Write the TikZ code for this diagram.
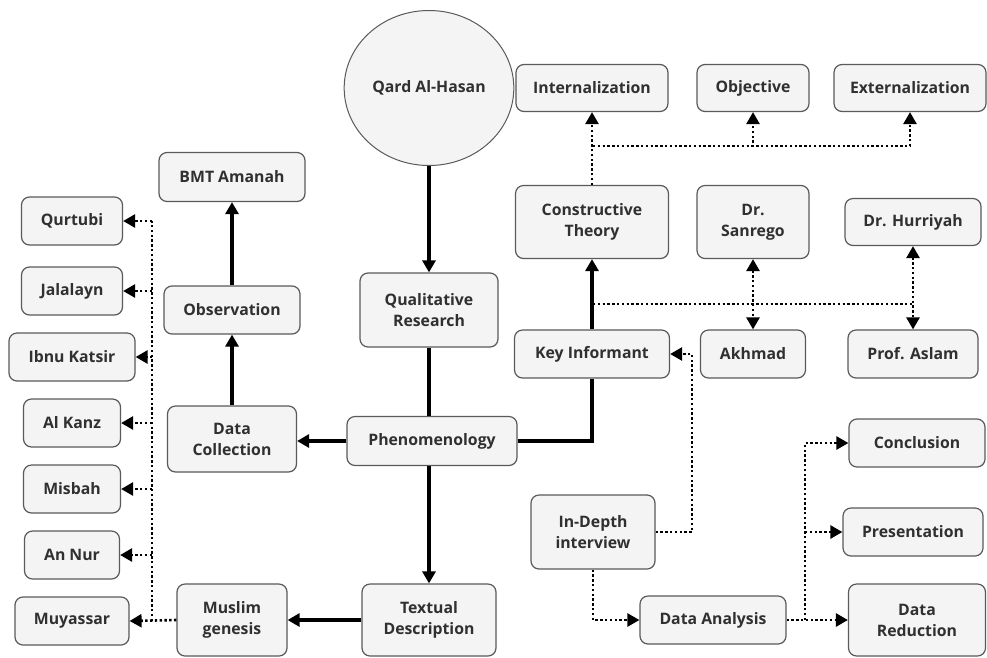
\documentclass[tikz,border=0pt]{standalone}
\usepackage{fontspec}
\setmainfont{Open Sans}
\usetikzlibrary{arrows.meta,shapes.geometric}
\definecolor{boxfill}{HTML}{F4F4F4}
\definecolor{boxline}{HTML}{5A5A5A}
\definecolor{boxtext}{HTML}{303030}
\begin{document}
\begin{tikzpicture}[x=1pt,y=-1pt,
 box/.style={draw=boxline, fill=boxfill, rounded corners=8pt, line width=1.2pt,
   font=\fontsize{15.8}{21}\selectfont\bfseries, text=boxtext, align=center, inner sep=0pt},
 tip/.tip={Triangle[length=12pt,width=13pt]},
 solidl/.style={line width=3.2pt},
 solidc/.style={solidl, -tip},
 dotl/.style={line width=2.6pt, dash pattern=on 2.4pt off 2.4pt},
 dotc/.style={dotl, -tip},
 dotb/.style={dotl, tip-tip},
]
\useasboundingbox (0,0) rectangle (987,657);
\fill[white] (0,0) rectangle (987,657);

% top row
\node[draw=boxline, fill=boxfill, ellipse, line width=1pt, minimum width=142pt, minimum height=155pt,
  font=\fontsize{15.8}{21}\selectfont\bfseries, text=boxtext] (qard) at (429,88) {Qard Al-Hasan};
\node[box, minimum width=152pt, minimum height=47pt] (intern) at (592,88) {Internalization};
\node[box, minimum width=112pt, minimum height=47pt] (objective) at (753,88) {Objective};
\node[box, minimum width=152pt, minimum height=47pt] (extern) at (910,88) {Externalization};

\node[box, minimum width=146pt, minimum height=49pt] (bmt) at (232,177) {BMT Amanah};
\node[box, minimum width=153pt, minimum height=73pt] (constr) at (592,222) {Constructive\\Theory};
\node[box, minimum width=112pt, minimum height=73pt] (sanrego) at (753,222) {Dr.\\Sanrego};
\node[box, minimum width=136pt, minimum height=47pt] (hurriyah) at (913,222) {Dr. Hurriyah};

% tafsir column
\node[box, minimum width=101pt, minimum height=48pt] (qurtubi) at (72,221) {Qurtubi};
\node[box, minimum width=101pt, minimum height=48pt] (jalalayn) at (72,291) {Jalalayn};
\node[box, minimum width=126pt, minimum height=48pt] (ibnu) at (72,357) {Ibnu Katsir};
\node[box, minimum width=97pt, minimum height=48pt] (alkanz) at (72,423) {Al Kanz};
\node[box, minimum width=97pt, minimum height=48pt] (misbah) at (72,489) {Misbah};
\node[box, minimum width=95pt, minimum height=48pt] (annur) at (72,555) {An Nur};
\node[box, minimum width=114pt, minimum height=48pt] (muyassar) at (72,621) {Muyassar};

% middle
\node[box, minimum width=136pt, minimum height=48pt] (obs) at (232,310) {Observation};
\node[box, minimum width=138pt, minimum height=74pt] (qual) at (429,310) {Qualitative\\Research};
\node[box, minimum width=155pt, minimum height=48pt] (keyinf) at (592,354) {Key Informant};
\node[box, minimum width=105pt, minimum height=48pt] (akhmad) at (753,354) {Akhmad};
\node[box, minimum width=130pt, minimum height=48pt] (aslam) at (913,354) {Prof. Aslam};

\node[box, minimum width=129pt, minimum height=66pt] (datacol) at (232,439) {Data\\Collection};
\node[box, minimum width=170pt, minimum height=49pt] (phen) at (432,441) {Phenomenology};
\node[box, minimum width=136pt, minimum height=48pt] (conclusion) at (917,443) {Conclusion};

\node[box, minimum width=124pt, minimum height=74pt] (indepth) at (593,532) {In-Depth\\interview};
\node[box, minimum width=140pt, minimum height=48pt] (presentation) at (913,532) {Presentation};

\node[box, minimum width=110pt, minimum height=72pt] (muslim) at (232,620) {Muslim\\genesis};
\node[box, minimum width=134pt, minimum height=72pt] (textual) at (429,620) {Textual\\Description};
\node[box, minimum width=146pt, minimum height=48pt] (analysis) at (713,620) {Data Analysis};
\node[box, minimum width=137pt, minimum height=72pt] (reduction) at (917,620) {Data\\Reduction};

% solid connectors
\draw[solidc] (qard.south) -- (qual.north);
\draw[solidl] (qual.south) -- (qual.south |- phen.north);
\draw[solidc] (phen.west) -- (phen.west -| datacol.east);
\draw[solidc] (textual.north |- phen.south) -- (textual.north);
\draw[solidl] (phen.east) -| (keyinf.south);
\draw[solidc] (keyinf.north) -- (constr.south);
\draw[solidc] (datacol.north) -- (obs.south);
\draw[solidc] (obs.north) -- (bmt.south);
\draw[solidc] (textual.west) -- (muslim.east);

% tafsir dotted tree
\coordinate (tj) at (152,621);
\draw[dotl] (tj) -- (tj |- qurtubi.east);
\draw[dotc] (muslim.west) -- (muyassar.east);
\foreach \n in {qurtubi,jalalayn,ibnu,alkanz,misbah,annur}
  \draw[dotc] (tj |- \n.east) -- (\n.east);

% constructive theory tree
\coordinate (ct) at (593,146);
\draw[dotc] (constr.north) -- (intern.south);
\draw[dotc] (ct) -| (objective.south);
\draw[dotc] (ct) -| (extern.south);

% key informant tree
\coordinate (kt) at (593,304);
\draw[dotl] (kt) -- (kt -| hurriyah.south);
\draw[dotb] (sanrego.south) -- (akhmad.north);
\draw[dotb] (hurriyah.south) -- (aslam.north);

% in-depth interview
\coordinate (ij) at (692,532);
\draw[dotc] (indepth.east) -- (ij) |- (keyinf.east);
\draw[dotc] (indepth.south) |- (analysis.west);

% data analysis tree
\coordinate (aj) at (805,620);
\draw[dotc] (analysis.east) -- (reduction.west);
\draw[dotc] (aj) |- (conclusion.west);
\draw[dotc] (aj |- presentation.west) -- (presentation.west);
\end{tikzpicture}
\end{document}
